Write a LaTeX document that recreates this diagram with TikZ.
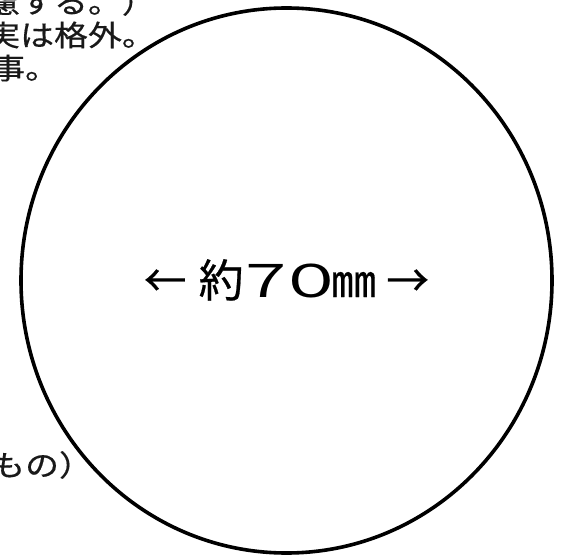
\documentclass[tikz,border=0pt]{standalone}
\usepackage{fontspec}
\usetikzlibrary{shapes.geometric}
\newfontfamily\jpfont[FakeBold=0.5]{Noto Sans CJK JP}
\newfontfamily\jplight{Noto Sans CJK JP}
\newcommand{\wideglyph}[2]{\makebox[0pt][c]{\scalebox{#1}[1]{#2}}}
\begin{document}
\begin{tikzpicture}[x=1pt,y=-1pt,
  sidetext/.style={anchor=base west,inner sep=0pt,font=\jpfont\fontsize{29}{33}\selectfont,text=black!90},
  bigtext/.style={anchor=base west,inner sep=0pt,font=\jpfont\fontsize{45}{54}\selectfont,text=black}]
\useasboundingbox (0,0) rectangle (567,556);
\clip (0,0) rectangle (567,556);
\fill[white] (0,0) rectangle (567,556);
\node[draw=black,line width=3.6pt,ellipse,minimum width=531pt,minimum height=545pt,inner sep=0pt] (c) at (286.5,280.5) {};
\node[sidetext] (t1) at (-14,13) {\scalebox{1.17}[1]{慮する。）}};
\node[sidetext] (t2) at (-14,46) {\scalebox{1.17}[1]{実は格外。}};
\node[sidetext] (t3) at (-9,79) {\scalebox{1.17}[1]{事。}};
\node[sidetext] (t4) at (-9,476) {\scalebox{1.17}[1]{もの）}};
\node[bigtext] (dim) at (165,297) {\wideglyph{0.95}{←}\hspace{56pt}\wideglyph{1}{約}\hspace{44.5pt}{\jplight\wideglyph{1.45}{７}}\hspace{45.5pt}{\jplight\wideglyph{1.55}{０}}\hspace{42.5pt}\wideglyph{1}{㎜}\hspace{54pt}\wideglyph{0.95}{→}};
\end{tikzpicture}
\end{document}
